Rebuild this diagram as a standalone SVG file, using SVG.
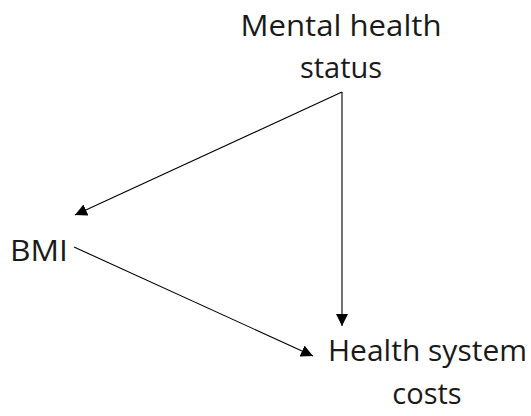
<svg xmlns="http://www.w3.org/2000/svg" width="531" height="416" viewBox="0 0 531 416">
<defs>
<style>
text{font-family:"Open Sans","Noto Sans","Liberation Sans",sans-serif;font-size:29px;fill:#1a1a1a}
.c line{stroke:#000;stroke-width:1.1;fill:none}
</style>
<marker id="ah" viewBox="0 0 10 10" refX="10" refY="5" markerWidth="12" markerHeight="12" markerUnits="userSpaceOnUse" orient="auto">
<path d="M0,0 L10,5 L0,10 z" fill="#000"/>
</marker>
</defs>
<rect width="531" height="416" fill="#fff"/>
<g id="mental">
<text x="341" y="36" text-anchor="middle" textLength="201" lengthAdjust="spacingAndGlyphs">Mental health</text>
<text x="341" y="78" text-anchor="middle">status</text>
</g>
<g id="bmi">
<text x="10" y="261" textLength="58" lengthAdjust="spacingAndGlyphs">BMI</text>
</g>
<g id="costs">
<text x="328" y="361" textLength="199" lengthAdjust="spacingAndGlyphs">Health system</text>
<text x="427" y="404" text-anchor="middle">costs</text>
</g>
<g class="c">
<line x1="342" y1="92" x2="75" y2="215" marker-end="url(#ah)"/>
<line x1="342" y1="92" x2="342" y2="326" marker-end="url(#ah)"/>
<line x1="74" y1="247" x2="313" y2="356" marker-end="url(#ah)"/>
</g>
</svg>
